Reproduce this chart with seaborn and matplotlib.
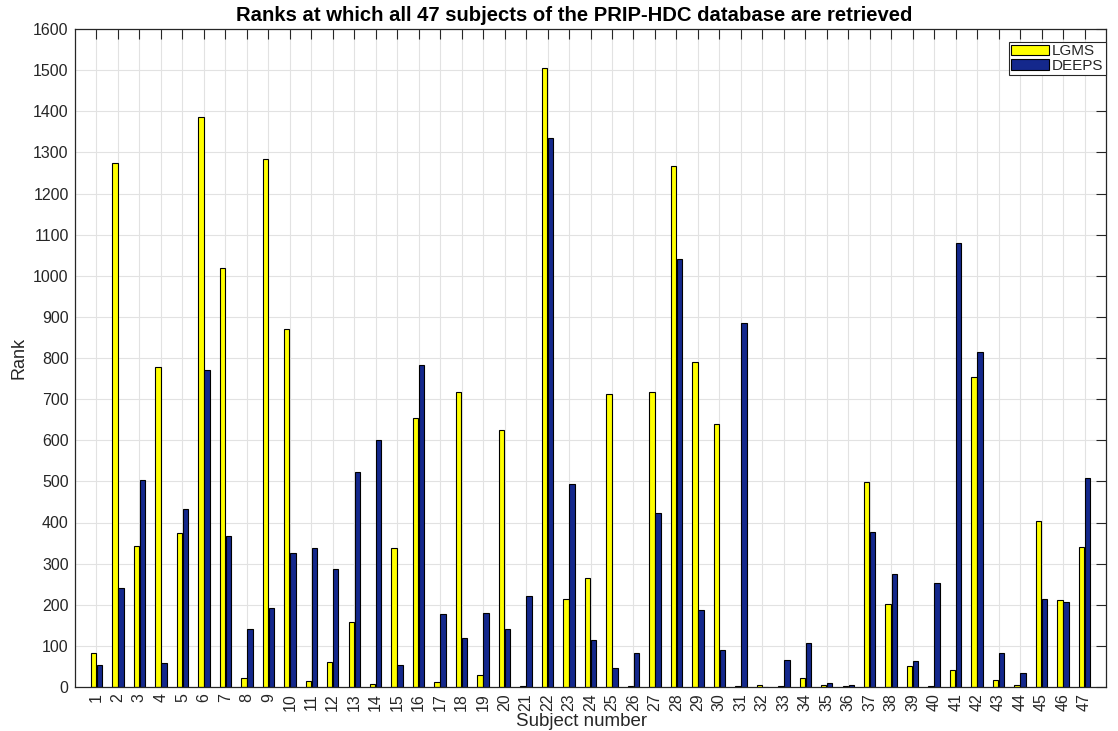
import numpy as np
import pandas as pd
import matplotlib
matplotlib.use("Agg")
import matplotlib.pyplot as plt
import seaborn as sns

subjects = list(range(1, 48))
lgms = [83, 1273, 342, 779, 375, 1385, 1018, 22, 1285, 870, 15, 60, 159, 8, 339,
        655, 11, 718, 29, 625, 2, 1506, 214, 266, 713, 2, 718, 1266, 790, 640,
        2, 5, 2, 23, 6, 2, 498, 203, 50, 2, 41, 755, 16, 5, 403, 211, 341]
deeps = [53, 240, 504, 58, 434, 770, 368, 142, 191, 325, 338, 287, 523, 600, 54,
         782, 178, 119, 179, 140, 222, 1336, 494, 115, 45, 83, 424, 1041, 188, 89,
         885, 1, 65, 108, 9, 5, 378, 274, 63, 252, 1080, 815, 83, 35, 215, 207, 509]
series_names = ["LGMS", "DEEPS"]
colors = ["#FFFF00", "#14288C"]
yticks = list(range(0, 1700, 100))

df = pd.DataFrame({
    "Subject": subjects * 2,
    "Rank": lgms + deeps,
    "Method": [series_names[0]] * len(subjects) + [series_names[1]] * len(subjects),
})

sns.set_style("white")
plt.rcParams['font.family'] = ['Liberation Sans', 'DejaVu Sans']

W, H = 1118, 731
fig = plt.figure(figsize=(W / 100, H / 100), dpi=100)
ax = fig.add_axes([75 / W, 44 / H, 1031 / W, 658 / H])

sns.barplot(data=df, x="Subject", y="Rank", hue="Method", hue_order=series_names,
            palette=colors, native_scale=True, width=0.56, gap=0.1,
            edgecolor="black", linewidth=0.8, saturation=1, errorbar=None,
            ax=ax, zorder=2)

ax.set_xlim(0, 48)
ax.set_ylim(0, 1600)
ax.set_xticks(subjects)
ax.set_xticklabels([str(s) for s in subjects], rotation=90)
ax.set_yticks(yticks)
ax.set_yticklabels([str(v) for v in yticks])
ax.set_axisbelow(True)
ax.grid(True, color="#e2e2e2", linewidth=0.8, zorder=0)
ax.tick_params(direction='in', length=7.5, width=0.8, top=True, right=True,
               labelsize=11.5, color="#262626", labelcolor="#262626", pad=4.5)
for s in ax.spines.values():
    s.set_color("#262626")
    s.set_linewidth(0.9)

ax.set_xlabel("Subject number", fontsize=13.5, color="#262626", labelpad=0)
ax.xaxis.set_label_coords(0.491, -0.0395)
ax.set_ylabel("Rank", fontsize=13, color="#262626", labelpad=4)
ax.set_title("Ranks at which all 47 subjects of the PRIP-HDC database are retrieved",
             fontsize=14.6, fontweight='bold', color="black", pad=6, x=0.484)

leg = ax.legend(loc="upper right", bbox_to_anchor=(1.0, 1 - 13 / 658), borderaxespad=0,
                fontsize=11, frameon=True, fancybox=False, framealpha=1,
                edgecolor="#262626", handlelength=2.5, handleheight=0.7,
                labelspacing=0.05, borderpad=0.15, handletextpad=0.2)
leg.get_frame().set_linewidth(0.8)

fig.savefig("out.png", dpi=100)
